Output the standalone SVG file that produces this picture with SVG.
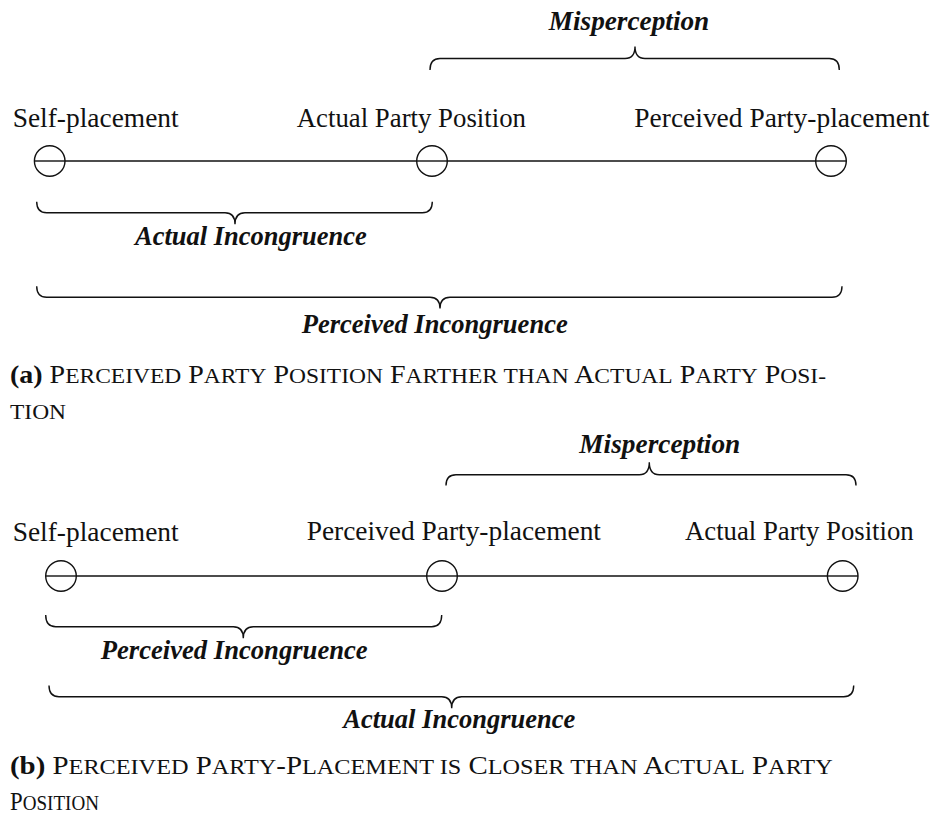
<svg xmlns="http://www.w3.org/2000/svg" width="933" height="814" viewBox="0 0 933 814">
<style>
.bg{fill:#ffffff}
.lbl{font-family:"Liberation Serif","Times New Roman",serif;font-size:27px;fill:#111}
.bi{font-family:"Liberation Serif","Times New Roman",serif;font-size:27px;font-weight:bold;font-style:italic;fill:#111}
.cap{font-family:"Liberation Serif","Times New Roman",serif;font-size:25px;fill:#111}
.sc{font-size:21px}
.b{font-weight:bold}
.node{fill:#ffffff;stroke:#111;stroke-width:1.4}
.axis{stroke:#111;stroke-width:1.4;fill:none}
.brace{stroke:#111;stroke-width:1.4;fill:none}
</style>
<rect class="bg" x="0" y="0" width="933" height="814"/>

<!-- Panel (a) -->
<g id="connectors-a">
  <line class="axis" x1="34.4" y1="161" x2="846.3" y2="161"/>
  <path id="brace-a-misperception" class="brace" d="M430,70 Q430,58.5 440,58.5 H625 Q635,58.5 635,46.5 Q635,58.5 645,58.5 H829.3 Q839.3,58.5 839.3,70"/>
  <path id="brace-a-actual" class="brace" d="M36.7,201.7 Q36.7,212.7 46.7,212.7 H225 Q235,212.7 235,224.3 Q235,212.7 245,212.7 H422.3 Q432.3,212.7 432.3,201.7"/>
  <path id="brace-a-perceived" class="brace" d="M36.7,286.3 Q36.7,297.3 46.7,297.3 H430 Q440,297.3 440,308.5 Q440,297.3 450,297.3 H832 Q842,297.3 842,286.3"/>
</g>
<g id="a-self">
  <circle class="node" cx="49.7" cy="161" r="15.3"/>
  <line class="axis" x1="34.4" y1="161" x2="65" y2="161"/>
  <text class="lbl" x="12.7" y="127" textLength="166" lengthAdjust="spacingAndGlyphs">Self-placement</text>
</g>
<g id="a-actual">
  <circle class="node" cx="432" cy="161" r="15.3"/>
  <line class="axis" x1="416.7" y1="161" x2="447.3" y2="161"/>
  <text class="lbl" x="296.7" y="127" textLength="229.3" lengthAdjust="spacingAndGlyphs">Actual Party Position</text>
</g>
<g id="a-perceived">
  <circle class="node" cx="831" cy="161" r="15.3"/>
  <line class="axis" x1="815.7" y1="161" x2="846.3" y2="161"/>
  <text class="lbl" x="634.3" y="127" textLength="295" lengthAdjust="spacingAndGlyphs">Perceived Party-placement</text>
</g>
<g id="a-labels">
  <text class="bi" x="548.7" y="30" textLength="160.6" lengthAdjust="spacingAndGlyphs">Misperception</text>
  <text class="bi" x="135" y="245" textLength="231.7" lengthAdjust="spacingAndGlyphs">Actual Incongruence</text>
  <text class="bi" x="301.7" y="333" textLength="266" lengthAdjust="spacingAndGlyphs">Perceived Incongruence</text>
</g>
<g id="caption-a">
  <text class="cap" x="10" y="383" textLength="816" lengthAdjust="spacingAndGlyphs"><tspan class="b">(a)</tspan> P<tspan class="sc">ERCEIVED</tspan> P<tspan class="sc">ARTY</tspan> P<tspan class="sc">OSITION</tspan> F<tspan class="sc">ARTHER THAN</tspan> A<tspan class="sc">CTUAL</tspan> P<tspan class="sc">ARTY</tspan> P<tspan class="sc">OSI-</tspan></text>
  <text class="cap" x="10" y="419.3" textLength="56" lengthAdjust="spacingAndGlyphs"><tspan class="sc">TION</tspan></text>
</g>

<!-- Panel (b) -->
<g id="connectors-b">
  <line class="axis" x1="45.7" y1="576" x2="858" y2="576"/>
  <path id="brace-b-misperception" class="brace" d="M446,485.5 Q446,474.8 456,474.8 H639.3 Q649.3,474.8 649.3,462.3 Q649.3,474.8 659.3,474.8 H846 Q856,474.8 856,485.5"/>
  <path id="brace-b-perceived" class="brace" d="M45.7,615 Q45.7,626.7 55.7,626.7 H233.3 Q243.3,626.7 243.3,638.3 Q243.3,626.7 253.3,626.7 H431.7 Q441.7,626.7 441.7,615"/>
  <path id="brace-b-actual" class="brace" d="M49,685.5 Q49,696.7 59,696.7 H441.7 Q451.7,696.7 451.7,708.3 Q451.7,696.7 461.7,696.7 H843.7 Q853.7,696.7 853.7,685.5"/>
</g>
<g id="b-self">
  <circle class="node" cx="61" cy="576" r="15.3"/>
  <line class="axis" x1="45.7" y1="576" x2="76.3" y2="576"/>
  <text class="lbl" x="12.7" y="541" textLength="166" lengthAdjust="spacingAndGlyphs">Self-placement</text>
</g>
<g id="b-perceived">
  <circle class="node" cx="442" cy="576" r="15.3"/>
  <line class="axis" x1="426.7" y1="576" x2="457.3" y2="576"/>
  <text class="lbl" x="306.7" y="540" textLength="294.3" lengthAdjust="spacingAndGlyphs">Perceived Party-placement</text>
</g>
<g id="b-actual">
  <circle class="node" cx="842.7" cy="576" r="15.3"/>
  <line class="axis" x1="827.4" y1="576" x2="858" y2="576"/>
  <text class="lbl" x="685" y="540" textLength="228.7" lengthAdjust="spacingAndGlyphs">Actual Party Position</text>
</g>
<g id="b-labels">
  <text class="bi" x="579.3" y="453" textLength="161" lengthAdjust="spacingAndGlyphs">Misperception</text>
  <text class="bi" x="100.7" y="659" textLength="267" lengthAdjust="spacingAndGlyphs">Perceived Incongruence</text>
  <text class="bi" x="343.3" y="728.3" textLength="232" lengthAdjust="spacingAndGlyphs">Actual Incongruence</text>
</g>
<g id="caption-b">
  <text class="cap" x="10" y="773.5" textLength="822.7" lengthAdjust="spacingAndGlyphs"><tspan class="b">(b)</tspan> P<tspan class="sc">ERCEIVED</tspan> P<tspan class="sc">ARTY</tspan>-P<tspan class="sc">LACEMENT IS</tspan> C<tspan class="sc">LOSER THAN</tspan> A<tspan class="sc">CTUAL</tspan> P<tspan class="sc">ARTY</tspan></text>
  <text class="cap" x="10" y="810" textLength="89" lengthAdjust="spacingAndGlyphs">P<tspan class="sc">OSITION</tspan></text>
</g>
</svg>
